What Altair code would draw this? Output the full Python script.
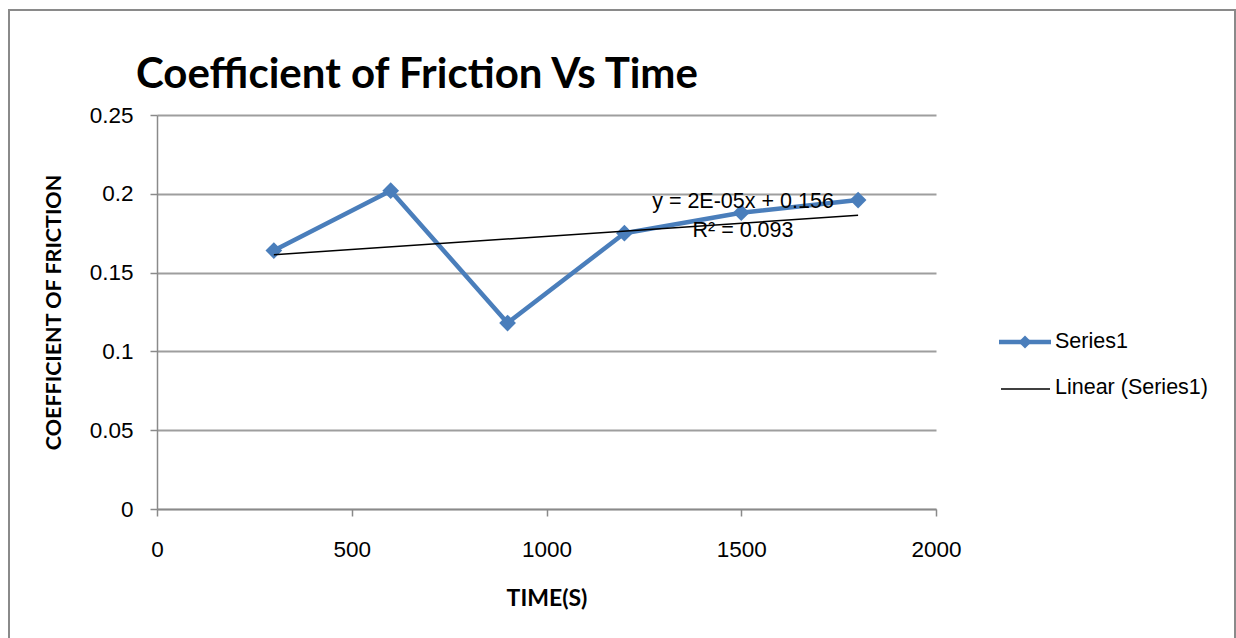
import numpy as np
import pandas as pd
import altair as alt

# Measured coefficient of friction over time
times = [300, 600, 900, 1200, 1500, 1800]
cof = [0.164, 0.202, 0.118, 0.175, 0.188, 0.196]

x_ticks = [0, 500, 1000, 1500, 2000]
y_ticks = [0, 0.05, 0.1, 0.15, 0.2, 0.25]

series_names = ["Series1", "Linear (Series1)"]
chart_title = "Coefficient of Friction Vs Time"
x_title = "TIME(S)"
y_title = "COEFFICIENT OF FRICTION"

BLUE = "#4A7EBB"
GRAY = "#8A8A8A"
GRID = "#9E9E9E"
REG_FONT = "Liberation Sans"
BOLD_FONT = "Lato"

# Least-squares fit for the trendline label
slope, intercept = np.polyfit(times, cof, 1)
pred = np.polyval([slope, intercept], times)
y_arr = np.array(cof)
r2 = 1 - np.sum((y_arr - pred) ** 2) / np.sum((y_arr - y_arr.mean()) ** 2)
eq_lines = [f"y = {slope:.0E}x + {intercept:.3f}", f"R\u00b2 = {r2:.3f}"]

df = pd.DataFrame({"time": times, "cof": cof})
one = alt.Data(values=[{"k": 0}])

x_enc = alt.X(
    "time:Q",
    scale=alt.Scale(domain=[0, 2000], nice=False),
    axis=alt.Axis(
        values=x_ticks, format="d", grid=False, title=x_title,
        titleY=89, titleBaseline="middle", labelPadding=22,
        labelFlush=False, titleFontSize=23,
    ),
)
y_enc = alt.Y(
    "cof:Q",
    scale=alt.Scale(domain=[0, 0.25], nice=False),
    axis=alt.Axis(
        values=y_ticks, format="~g", grid=True, title=y_title,
        titleAngle=270, titleX=-103, titleY=197, titleBaseline="middle",
        labelPadding=17, labelFlush=False, titleFontSize=21.5,
    ),
)

base = alt.Chart(df)

series_line = base.mark_line(
    color=BLUE, strokeWidth=4.5, strokeJoin="round"
).encode(x=x_enc, y=y_enc)

series_pts = base.mark_point(
    shape="diamond", filled=True, size=280, color=BLUE, opacity=1
).encode(x="time:Q", y="cof:Q")

trend = base.transform_regression("time", "cof", method="linear").mark_line(
    color="black", strokeWidth=1.5
).encode(x="time:Q", y="cof:Q")

eq_text = alt.Chart(one).mark_text(
    text=eq_lines, font=REG_FONT, fontSize=21.5, lineHeight=29,
    align="center", baseline="alphabetic", color="black",
).encode(x=alt.value(586), y=alt.value(93))

# Outer frame of the chart
frame = alt.Chart(one).mark_rect(
    filled=False, stroke=GRAY, strokeWidth=2
).encode(x=alt.value(-148), x2=alt.value(1078), y=alt.value(-105), y2=alt.value(600))

title_text = alt.Chart(one).mark_text(
    text=chart_title, font=BOLD_FONT, fontWeight="bold", fontSize=42,
    align="left", baseline="alphabetic", color="black",
).encode(x=alt.value(-21), y=alt.value(-27))

# Legend
leg_line1 = alt.Chart(one).mark_rule(color=BLUE, strokeWidth=4.5).encode(
    x=alt.value(842), x2=alt.value(894), y=alt.value(227)
)
leg_pt1 = alt.Chart(one).mark_point(
    shape="diamond", filled=True, size=170, color=BLUE, opacity=1
).encode(x=alt.value(868), y=alt.value(227))
leg_txt1 = alt.Chart(one).mark_text(
    text=series_names[0], font=REG_FONT, fontSize=21.5, align="left",
    baseline="middle", color="black",
).encode(x=alt.value(898), y=alt.value(227))
leg_line2 = alt.Chart(one).mark_rule(color="black", strokeWidth=1.5).encode(
    x=alt.value(844), x2=alt.value(893), y=alt.value(274)
)
leg_txt2 = alt.Chart(one).mark_text(
    text=series_names[1], font=REG_FONT, fontSize=21.5, align="left",
    baseline="middle", color="black",
).encode(x=alt.value(898), y=alt.value(273))

chart = alt.layer(
    frame, series_line, series_pts, trend, eq_text, title_text,
    leg_line1, leg_pt1, leg_txt1, leg_line2, leg_txt2,
).properties(
    width=779, height=394,
    autosize=alt.AutoSizeParams(type="none"),
    padding={"left": 157, "top": 115, "right": 300, "bottom": 129},
).configure(
    background="white",
).configure_view(
    stroke=None,
).configure_axis(
    domainColor=GRAY, domainWidth=1.5, tickColor=GRAY, tickWidth=1.5, tickSize=7,
    gridColor=GRID, gridWidth=2,
    labelFont=REG_FONT, labelFontSize=22.5, labelColor="black",
    titleFont=BOLD_FONT, titleFontWeight="bold", titleColor="black",
)

chart.save("out.html", embed_options={"renderer": "svg", "actions": False})
